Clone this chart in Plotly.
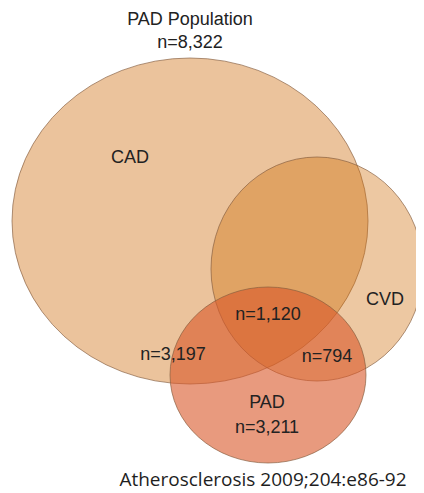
import plotly.graph_objects as go

# ---- data ----
set_names = ["CAD", "CVD", "PAD"]
total_n = 8322
pad_cad_n = 3197
pad_cvd_n = 794
pad_all_n = 1120
pad_only_n = 3211
title_text = "PAD Population"
source_text = "Atherosclerosis 2009;204:e86-92"

# ---- geometry (pixel-like coordinates, y downwards) ----
W, H = 424, 493
OFF = 8  # page body margin
ellipses = {
    "CAD": dict(cx=190, cy=221, rx=178, ry=163, color="rgba(205,105,8,0.40)"),
    "CVD": dict(cx=317, cy=269, rx=106, ry=112, color="rgba(208,110,10,0.38)"),
    "PAD": dict(cx=268, cy=375, rx=98, ry=88, color="rgba(217,87,40,0.60)"),
}

fig = go.Figure()
for name in set_names:
    e = ellipses[name]
    fig.add_shape(type="circle", xref="x", yref="y",
                  x0=e["cx"] - e["rx"], x1=e["cx"] + e["rx"],
                  y0=e["cy"] - e["ry"], y1=e["cy"] + e["ry"],
                  fillcolor=e["color"], line=dict(color="rgba(130,90,60,0.65)", width=1),
                  layer="below")

label_text = [title_text, f"n={total_n:,}", set_names[0], set_names[1],
              f"n={pad_all_n:,}", f"n={pad_cad_n:,}", f"n={pad_cvd_n:,}",
              set_names[2], f"n={pad_only_n:,}"]
label_x = [190, 190, 130, 385, 268, 173, 327, 267, 267]
label_y = [20, 43, 158, 300, 315, 355, 357, 403, 428]

fig.add_trace(go.Scatter(x=label_x, y=label_y, mode="text", text=label_text,
                         textfont=dict(family="Liberation Sans, Arial", size=18, color="#222222"),
                         cliponaxis=False, hoverinfo="skip", showlegend=False))
fig.add_trace(go.Scatter(x=[263], y=[481], mode="text", text=[source_text],
                         textfont=dict(family="Open Sans", size=19, color="#1e1e1e"),
                         cliponaxis=False, hoverinfo="skip", showlegend=False))

fig.update_layout(width=W - OFF, height=H - OFF, margin=dict(l=0, r=0, t=0, b=0),
                  paper_bgcolor="white", plot_bgcolor="white",
                  xaxis=dict(range=[OFF, W], visible=False, fixedrange=True),
                  yaxis=dict(range=[H, OFF], visible=False, fixedrange=True))
fig.write_html("out.html")
